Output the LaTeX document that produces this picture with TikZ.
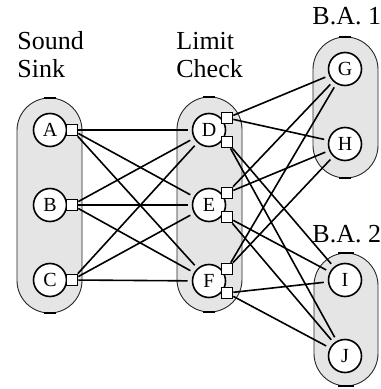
\documentclass[tikz,border=0pt]{standalone}
\usepackage{fontspec}
\setmainfont{Liberation Serif}
\begin{document}
\begin{tikzpicture}[x=0.5pt,y=-0.5pt,
    group/.style={draw=black!85, line width=0.45pt, fill=black!10, rounded corners=16.25pt},
    grouptick/.style={line width=1.1pt},
    unit/.style={circle, draw, line width=0.8pt, fill=white, minimum size=16.5pt, inner sep=0pt, font=\fontsize{10}{12}\selectfont},
    port/.style={rectangle, draw, line width=0.8pt, fill=white, minimum size=5.5pt, inner sep=0pt},
    link/.style={-, line width=0.8pt, shorten >=2pt},
    title/.style={align=left, anchor=base west, inner sep=0pt, font=\fontsize{13}{14.3}\selectfont}]
    \useasboundingbox (0,0) rectangle (380,389);

    % the four groups
    \draw[group] (17,98) rectangle (82,313);
    \draw[group] (177,97) rectangle (242,312);
    \draw[group] (313,37) rectangle (378,178);
    \draw[group] (314,253) rectangle (378,386);
    \draw[grouptick] (44,98) -- (56,98);   \draw[grouptick] (44,313) -- (56,313);
    \draw[grouptick] (203,97) -- (215,97); \draw[grouptick] (203,312) -- (215,312);
    \draw[grouptick] (339,37) -- (351,37); \draw[grouptick] (339,178) -- (351,178);
    \draw[grouptick] (338,253) -- (354,253); \draw[grouptick] (338,386) -- (354,386);

    % titles (base is the last line)
    \node[title] (sink) at (17,78) {Sound\\Sink};
    \node[title] (check) at (176,78) {Limit\\Check};
    \node[title] (ba1) at (312,25) {B.A. 1};
    \node[title] (ba2) at (312,242) {B.A. 2};

    % units
    \node[unit] (A) at (50,130) {A};
    \node[unit] (B) at (50,205) {B};
    \node[unit] (C) at (50,280) {C};
    \node[unit] (D) at (209,130) {D};
    \node[unit] (E) at (209,205) {E};
    \node[unit] (F) at (209,281) {F};
    \node[unit] (G) at (345,69) {G};
    \node[unit] (H) at (345,144) {H};
    \node[unit] (I) at (345,280) {I};
    \node[unit] (J) at (345,356) {J};

    % ports
    \node[port] (pA) at (72,130) {};
    \node[port] (pB) at (72,205) {};
    \node[port] (pC) at (72,280) {};
    \node[port] (pD1) at (227,118) {};
    \node[port] (pD2) at (227,142) {};
    \node[port] (pE1) at (227,193) {};
    \node[port] (pE2) at (227,217) {};
    \node[port] (pF1) at (227,269) {};
    \node[port] (pF2) at (227,293) {};

    % sink to limit check
    \draw[link] (pA) -- (D); \draw[link] (pA) -- (E); \draw[link] (pA) -- (F);
    \draw[link] (pB) -- (D); \draw[link] (pB) -- (E); \draw[link] (pB) -- (F);
    \draw[link] (pC) -- (D); \draw[link] (pC) -- (E); \draw[link] (pC) -- (F);

    % limit check to B.A. 1 and B.A. 2
    \draw[link] (pD1) -- (G); \draw[link] (pD1) -- (H);
    \draw[link] (pE1) -- (G); \draw[link] (pE1) -- (H);
    \draw[link] (pF1) -- (G); \draw[link] (pF1) -- (H);
    \draw[link] (pD2) -- (I); \draw[link] (pD2) -- (J);
    \draw[link] (pE2) -- (I); \draw[link] (pE2) -- (J);
    \draw[link] (pF2) -- (I); \draw[link] (pF2) -- (J);
\end{tikzpicture}
\end{document}
